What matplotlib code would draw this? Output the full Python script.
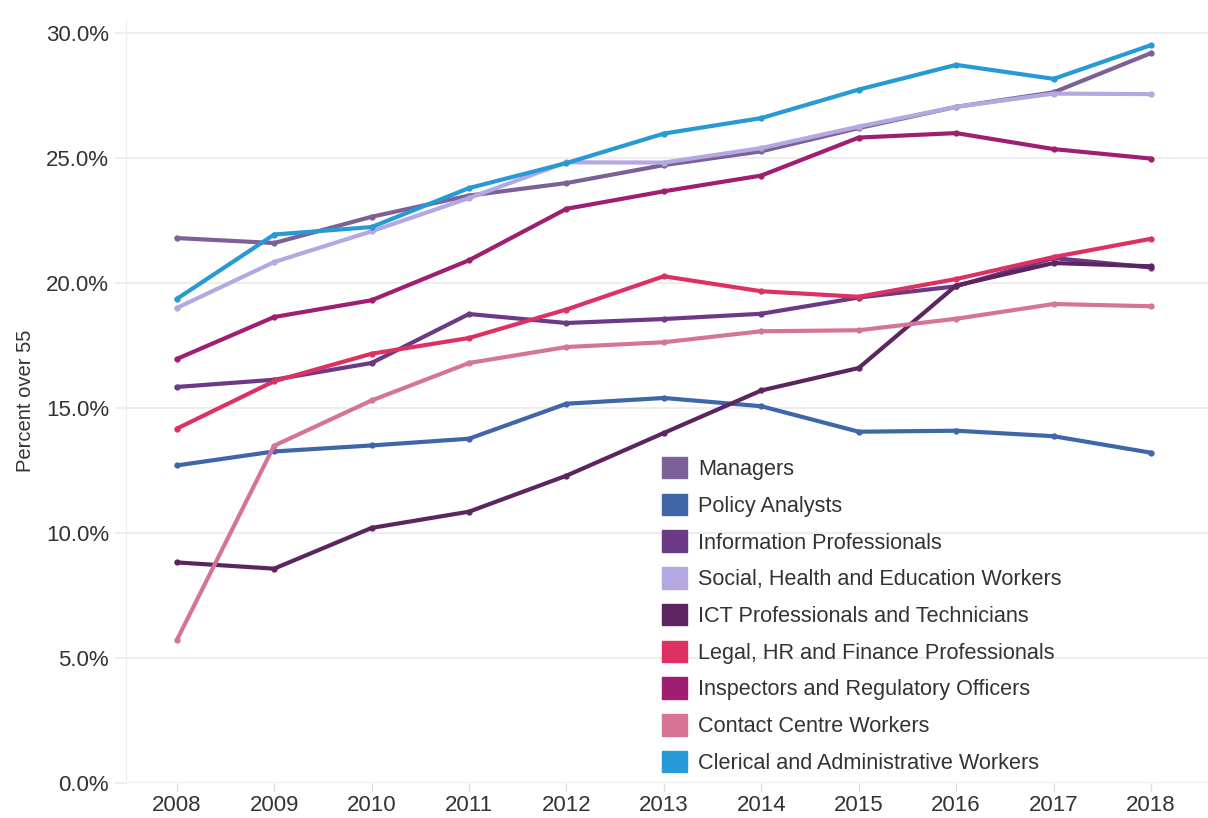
import matplotlib.pyplot as plt
from matplotlib.patches import Patch

plt.rcParams['font.family'] = ['Liberation Sans', 'DejaVu Sans']

years = [2008, 2009, 2010, 2011, 2012, 2013, 2014, 2015, 2016, 2017, 2018]

managers = [21.8, 21.6, 22.65, 23.5, 24.0, 24.72, 25.27, 26.2, 27.05, 27.63, 29.2]
policy = [12.7, 13.26, 13.5, 13.77, 15.17, 15.4, 15.07, 14.05, 14.09, 13.87, 13.21]
info = [15.84, 16.13, 16.8, 18.76, 18.4, 18.56, 18.77, 19.42, 19.87, 21.0, 20.62]
social = [19.0, 20.84, 22.07, 23.4, 24.83, 24.82, 25.4, 26.26, 27.05, 27.58, 27.56]
ict = [8.82, 8.57, 10.2, 10.85, 12.29, 14.0, 15.7, 16.6, 19.9, 20.8, 20.67]
legal = [14.17, 16.07, 17.17, 17.8, 18.94, 20.27, 19.67, 19.45, 20.16, 21.04, 21.77]
inspectors = [16.96, 18.64, 19.31, 20.91, 22.97, 23.67, 24.3, 25.82, 26.0, 25.36, 24.98]
contact = [5.7, 13.49, 15.3, 16.8, 17.44, 17.63, 18.07, 18.11, 18.57, 19.16, 19.07]
clerical = [19.36, 21.94, 22.24, 23.8, 24.8, 25.98, 26.6, 27.74, 28.73, 28.17, 29.52]

labels = ["Managers", "Policy Analysts", "Information Professionals",
          "Social, Health and Education Workers", "ICT Professionals and Technicians",
          "Legal, HR and Finance Professionals", "Inspectors and Regulatory Officers",
          "Contact Centre Workers", "Clerical and Administrative Workers"]
colors = ["#7D6196", "#3E66A8", "#6C3A85", "#B3A8E0", "#5C2560",
          "#DE3163", "#A01E72", "#D57495", "#2799D6"]
series = [managers, policy, info, social, ict, legal, inspectors, contact, clerical]

fig = plt.figure(figsize=(12.08, 8.18), dpi=100)
ax = fig.add_axes([0.104, 0.043, 0.896, 0.933])

for vals, c in zip(series, colors):
    ax.plot(years, vals, color=c, lw=3.0, marker='o', ms=3.5,
            solid_capstyle='round', solid_joinstyle='round')

ax.set_xlim(2007.476, 2018.585)
ax.set_ylim(0, 30.54)
ax.set_xticks(years)
ax.set_yticks([0, 5, 10, 15, 20, 25, 30])
ax.set_yticklabels([f"{v:.1f}%" for v in [0, 5, 10, 15, 20, 25, 30]])
ax.grid(axis='y', color='#EEEEEE', lw=1.5)
ax.set_axisbelow(True)
for s in ['top', 'right', 'bottom']:
    ax.spines[s].set_visible(False)
ax.spines['left'].set_color('#EEEEEE')
ax.tick_params(axis='y', length=8, color='#EEEEEE', width=1.5, labelsize=16,
               labelcolor='#333333', pad=4)
ax.tick_params(axis='x', length=6, color='#DDDDDD', width=1, labelsize=16,
               labelcolor='#333333', pad=3)
ax.set_ylabel("Percent over 55", fontsize=14.5, color='#333333', labelpad=8)

handles = [Patch(color=c) for c in colors]
ax.legend(handles, labels, loc='upper left', bbox_to_anchor=(0.496, 0.427),
          frameon=False, fontsize=15.6, handlelength=1.15, handleheight=1.15,
          handletextpad=0.5, labelspacing=0.63, borderpad=0, borderaxespad=0,
          labelcolor='#333333')

fig.savefig("out.png", dpi=100)
